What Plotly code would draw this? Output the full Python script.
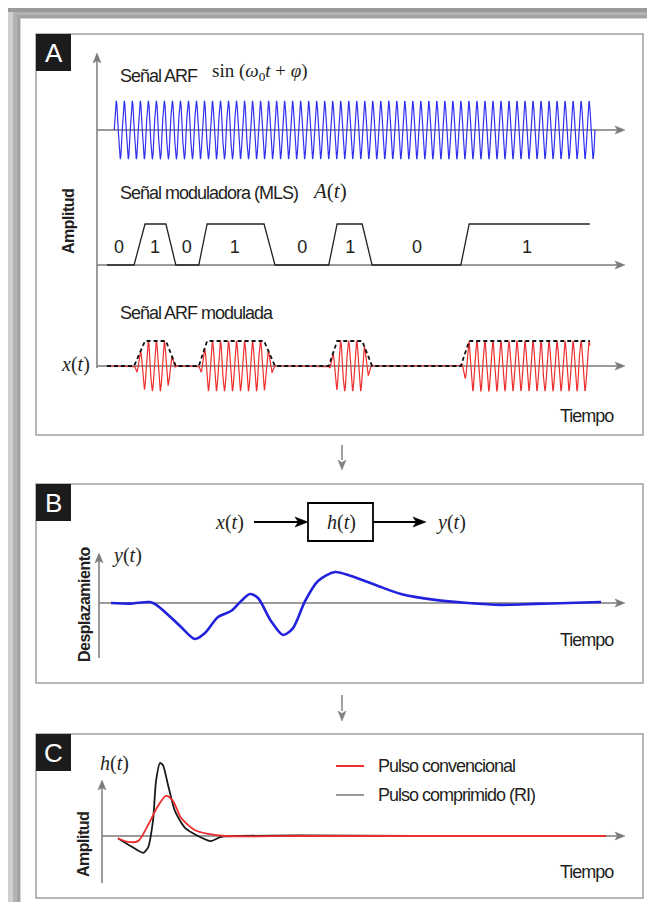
import numpy as np
import plotly.graph_objects as go

W, H = 655, 902
def fx(x): return x / W
def fy(y): return 1 - y / H

# ---------------- data ----------------
# Panel A: modulating MLS signal (time units 0..100 along the time axis)
MLS_T = [1.9, 7.1, 9.2, 13.2, 15.1, 19.5, 21.1, 32.0, 34.1, 44.4, 46.0, 50.8, 52.7, 69.7, 71.3, 94.4]
MLS_A = [0, 0, 1, 1, 0, 0, 1, 1, 0, 0, 1, 1, 0, 0, 1, 1]
BITS = ["0", "1", "0", "1", "0", "1", "0", "1"]
BIT_T = [4.2, 11.1, 17.2, 26.4, 39.3, 48.5, 61.3, 82.4]
BIT_LEVEL = 0.41
CARRIER_START = 3.3
CARRIER_END = 95.4
CARRIER_CYCLES = 60

# Panel B: measured displacement y(t)
Y_T = [2.49, 6.32, 9.96, 11.49, 15.71, 18.58, 20.50, 22.99, 25.48, 27.39, 29.12, 30.65,
       33.14, 35.44, 37.36, 39.66, 42.15, 45.40, 48.47, 53.64, 58.05, 64.56, 70.88,
       77.20, 83.72, 90.04, 96.36]
Y_V = [0.0, -0.02, 0.03, -0.10, -0.74, -1.16, -0.97, -0.45, -0.26, 0.06, 0.29, 0.16,
       -0.58, -1.03, -0.81, 0.06, 0.71, 1.00, 0.87, 0.55, 0.29, 0.10, 0.0,
       -0.06, -0.03, 0.0, 0.03]

# Panel C: impulse responses
RI_T = [3.46, 5.96, 8.27, 9.23, 10.19, 10.77, 11.54, 12.12, 13.08, 14.42, 16.35, 18.85,
        21.35, 23.27, 26.54, 38.08, 60.0, 97.31]
RI_V = [-0.03, -0.14, -0.23, -0.16, 0.21, 0.75, 1.00, 0.97, 0.70, 0.34, 0.11, 0.0,
        -0.07, -0.01, 0.0, 0.01, 0.0, 0.0]
CONV_T = [3.46, 5.38, 7.31, 9.23, 11.15, 12.69, 14.04, 15.58, 18.27, 20.77, 24.04, 40.0, 97.31]
CONV_V = [-0.03, -0.08, -0.07, 0.15, 0.41, 0.55, 0.48, 0.25, 0.08, 0.03, 0.0, 0.0, 0.0]

LEGEND_NAMES = ["Pulso convencional", "Pulso comprimido (RI)"]

# ---------------- styles ----------------
SANS = "Liberation Sans, Arial, sans-serif"
SERIF = "Liberation Serif, Times New Roman, serif"
AX_GRAY = "#7a7a7a"
BLUE = "#3030f0"
RED = "#ee2e2e"
TEXT = "#231f20"

fig = go.Figure()

# carrier
tc = np.linspace(CARRIER_START, CARRIER_END, 6000)
carrier = np.sin(2 * np.pi * CARRIER_CYCLES * (tc - CARRIER_START) / (CARRIER_END - CARRIER_START))
fig.add_trace(go.Scatter(x=tc, y=carrier, xaxis="x", yaxis="y", mode="lines",
                         line=dict(color=BLUE, width=1.2), hoverinfo="skip"))

# MLS
fig.add_trace(go.Scatter(x=MLS_T, y=MLS_A, xaxis="x2", yaxis="y2", mode="lines",
                         line=dict(color="#222", width=1.3), hoverinfo="skip"))
fig.add_trace(go.Scatter(x=BIT_T, y=[BIT_LEVEL] * len(BITS), text=BITS, mode="text",
                         xaxis="x2", yaxis="y2",
                         textfont=dict(family=SANS, size=18, color=TEXT),
                         hoverinfo="skip"))

# modulated
tm = np.linspace(MLS_T[0], MLS_T[-1], 6000)
env = np.interp(tm, MLS_T, MLS_A)
mod = env * np.sin(2 * np.pi * CARRIER_CYCLES * (tm - CARRIER_START) / (CARRIER_END - CARRIER_START))
fig.add_trace(go.Scatter(x=tm, y=mod, xaxis="x3", yaxis="y3", mode="lines",
                         line=dict(color=RED, width=1.2), hoverinfo="skip"))
fig.add_trace(go.Scatter(x=MLS_T, y=MLS_A, xaxis="x3", yaxis="y3", mode="lines",
                         line=dict(color="#111", width=1.8, dash="4px,3px"), hoverinfo="skip"))

# panel B
fig.add_trace(go.Scatter(x=Y_T, y=Y_V, xaxis="x4", yaxis="y4", mode="lines",
                         line=dict(color="#2222dd", width=2.6, shape="spline", smoothing=0.8),
                         hoverinfo="skip"))

# panel C
fig.add_trace(go.Scatter(x=RI_T, y=RI_V, xaxis="x5", yaxis="y5", mode="lines",
                         line=dict(color="#1a1a1a", width=1.8, shape="spline", smoothing=0.6),
                         hoverinfo="skip"))
fig.add_trace(go.Scatter(x=CONV_T, y=CONV_V, xaxis="x5", yaxis="y5", mode="lines",
                         line=dict(color=RED, width=1.8, shape="spline", smoothing=0.8),
                         hoverinfo="skip"))

def xax(x0, x1, rng, anchor):
    return dict(domain=[fx(x0), fx(x1)], range=rng, visible=False, fixedrange=True, anchor=anchor)

def yax(ytop, ybot, rng, anchor):
    return dict(domain=[fy(ybot), fy(ytop)], range=rng, visible=False, fixedrange=True, anchor=anchor)

layout = dict(
    width=W, height=H, margin=dict(l=0, r=0, t=0, b=0),
    paper_bgcolor="#cfcfcf", plot_bgcolor="rgba(0,0,0,0)", showlegend=False,
    xaxis=xax(89, 611, [0, 100], "y"),
    yaxis=yax(87, 157, [-1.207, 1.207], "x"),
    xaxis2=xax(89, 611, [0, 100], "y2"),
    yaxis2=yax(200, 265, [-0.195, 1.39], "x2"),
    xaxis3=xax(89, 611, [0, 100], "y3"),
    yaxis3=yax(325, 391, [-1.32, 1.32], "x3"),
    xaxis4=xax(90, 612, [0, 100], "y4"),
    yaxis4=yax(555, 640, [-1.452, 1.29], "x4"),
    xaxis5=xax(92, 612, [0, 100], "y5"),
    yaxis5=yax(745, 880, [-0.712, 1.137], "x5"),
)

shapes = []
annots = []

def rect(x0, y0, x1, y1, fill, line=None, lw=0, layer="below"):
    shapes.append(dict(type="rect", xref="paper", yref="paper", x0=fx(x0), x1=fx(x1),
                       y0=fy(y1), y1=fy(y0), fillcolor=fill,
                       line=dict(color=line if line else fill, width=lw), layer=layer))

def line(x0, y0, x1, y1, color=AX_GRAY, width=1.5):
    shapes.append(dict(type="line", xref="paper", yref="paper", x0=fx(x0), x1=fx(x1),
                       y0=fy(y0), y1=fy(y1), line=dict(color=color, width=width), layer="below"))

def head(x, y, d, color=AX_GRAY, L=10, w=8):
    if d == "right":
        pts = [(x, y), (x - L, y - w / 2), (x - L * 0.75, y), (x - L, y + w / 2)]
    elif d == "up":
        pts = [(x, y), (x - w / 2, y + L), (x, y + L * 0.75), (x + w / 2, y + L)]
    else:
        pts = [(x, y), (x - w / 2, y - L), (x, y - L * 0.75), (x + w / 2, y - L)]
    path = "M " + " L ".join(f"{fx(a):.5f},{fy(b):.5f}" for a, b in pts) + " Z"
    shapes.append(dict(type="path", xref="paper", yref="paper", path=path,
                       fillcolor=color, line=dict(color=color, width=0.5), layer="above"))

def text(x, y, s, size=18, family=SANS, anchor="left", color=TEXT, angle=0, bold=False, ls=None):
    if ls is not None:
        s = f'<span style="letter-spacing:{ls}px">' + s + "</span>"
    if bold:
        s = "<b>" + s + "</b>"
    annots.append(dict(x=fx(x), y=fy(y), xref="paper", yref="paper", text=s, showarrow=False,
                       xanchor=anchor, yanchor="middle", textangle=angle,
                       font=dict(family=family, size=size, color=color)))

# page with shadow
rect(0, 0, 655, 4, "#9a9a9a")
rect(5, 4, 653, 899, "#b3b3b3")
rect(9, 7, 651, 897, "#a4a4a4")
rect(12, 10, 650, 896, "#ffffff", "#9a9a9a", 0.8)

# panels
for (y0, y1, lab) in [(26, 427, "A"), (476, 675, "B"), (726, 890, "C")]:
    rect(28, y0, 635, y1, "#ffffff", "#a0a0a0", 1.5)
    rect(28, y0, 63, y0 + 37, "#1c1c1c", "#1c1c1c", 0)
    text(45.5, y0 + 19, lab, size=26, family=SANS, anchor="center", color="#ffffff")

# flow arrows between panels
line(334, 437, 334, 452, "#808080", 1.5)
head(334, 462, "down", "#808080")
line(334, 687, 334, 703, "#808080", 1.5)
head(334, 713, "down", "#808080")

# panel A axes
line(89, 360, 89, 52)
head(89, 45, "up")
for yy in (122, 257, 358):
    line(89, yy, 610, yy)
    head(617, yy, "right")

text(110, 68, "Señal ARF", 18, ls=-1)
text(202, 64, "sin (<i>ω</i><sub>0</sub><i>t</i> + <i>φ</i>)", 19, SERIF)
text(110, 185, "Señal moduladora (MLS)", 18, ls=-1)
text(302, 183, "<i>A</i>(<i>t</i>)", 21, SERIF)
text(110, 305, "Señal ARF modulada", 18, ls=-1)
text(84, 357, "<i>x</i>(<i>t</i>)", 20, SERIF, anchor="right")
text(608, 408, "Tiempo", 18, anchor="right", ls=-1)
text(60, 214, "Amplitud", 16, angle=-90, anchor="center", bold=True, ls=-0.5)

# panel B block diagram
text(222, 514, "<i>x</i>(<i>t</i>)", 20, SERIF, anchor="center")
line(246, 514, 292, 514, "#000", 2)
head(300, 514, "right", "#000", 13, 10)
rect(300, 495, 365, 533, "#ffffff", "#000", 1.8, layer="above")
text(333, 514, "<i>h</i>(<i>t</i>)", 20, SERIF, anchor="center")
line(365, 514, 410, 514, "#000", 2)
head(418, 514, "right", "#000", 13, 10)
text(443, 514, "<i>y</i>(<i>t</i>)", 20, SERIF, anchor="center")

line(91, 650, 91, 552)
head(91, 545, "up")
line(91, 595, 610, 595)
head(617, 595, "right")
text(102, 547, "<i>y</i>(<i>t</i>)", 20, SERIF)
text(76, 596, "Desplazamiento", 16, angle=-90, anchor="center", bold=True, ls=-0.5)
text(608, 632, "Tiempo", 18, anchor="right", ls=-1)

# panel C
line(94, 875, 94, 779)
head(94, 772, "up")
line(94, 828, 610, 828)
head(617, 828, "right")
text(90, 755, "<i>h</i>(<i>t</i>)", 20, SERIF)
text(75, 837, "Amplitud", 16, angle=-90, anchor="center", bold=True, ls=-0.5)
text(608, 864, "Tiempo", 18, anchor="right", ls=-1)
line(328, 758, 356, 758, RED, 2)
line(328, 787, 356, 787, "#9a9a9a", 2)
text(368, 758, LEGEND_NAMES[0], 18, ls=-1)
text(368, 787, LEGEND_NAMES[1], 18, ls=-1)

layout["shapes"] = shapes
layout["annotations"] = annots
fig.update_layout(**layout)
fig.write_html("out.html", config={"displayModeBar": False})
